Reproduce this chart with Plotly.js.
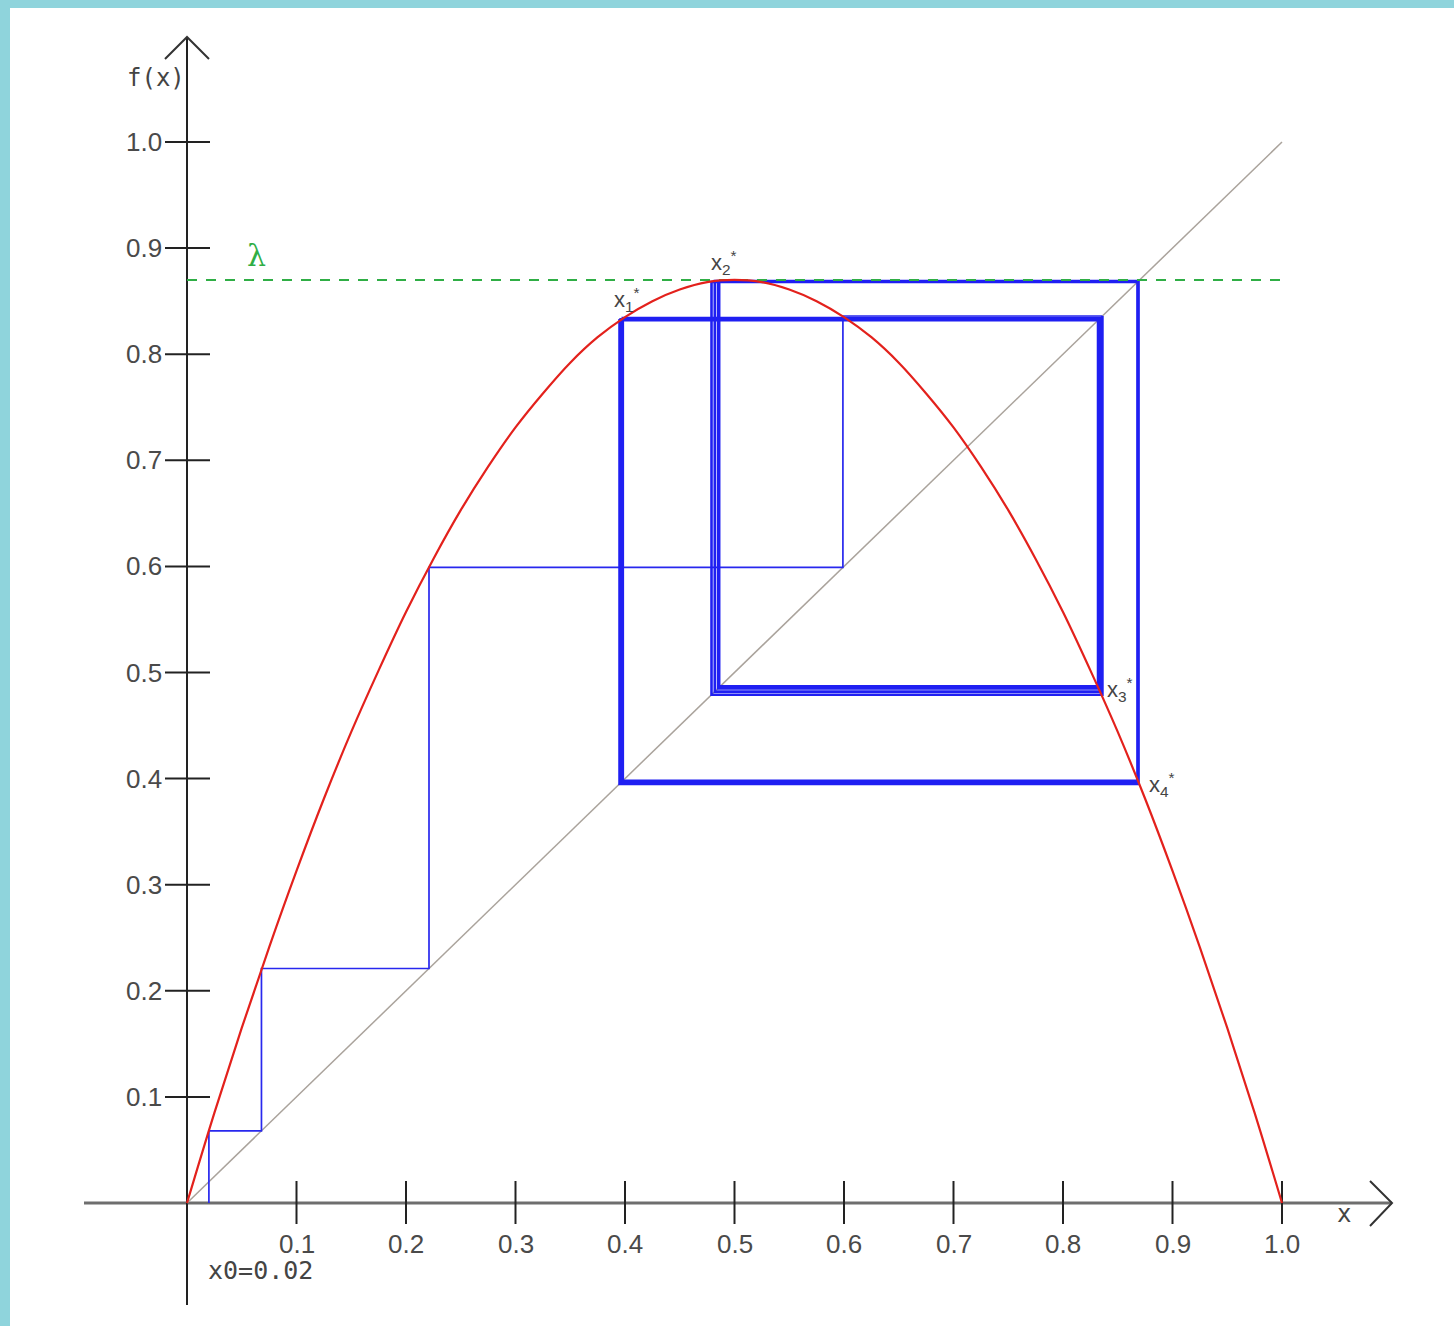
<!DOCTYPE html>
<html>
<head>
<meta charset="utf-8">
<script src="https://cdn.plot.ly/plotly-3.0.1.min.js"></script>
<style>
  html, body { margin: 0; padding: 0; background: #8fd4dc; }
  #plot { width: 1454px; height: 1326px; }
</style>
</head>
<body>
<div id="plot"></div>
<script>
// Logistic map cobweb: f(x) = r x (1 - x) with peak height lambda
const tickVals   = [0.1, 0.2, 0.3, 0.4, 0.5, 0.6, 0.7, 0.8, 0.9, 1.0];
const tickLabels = ['0.1', '0.2', '0.3', '0.4', '0.5', '0.6', '0.7', '0.8', '0.9', '1.0'];

const lambda = 0.87;
const startX = 0.02;

// sampled curve f(x)
const curveX = [0, 0.025, 0.05, 0.075, 0.1, 0.125, 0.15, 0.175, 0.2, 0.225, 0.25,
                0.275, 0.3, 0.325, 0.35, 0.375, 0.4, 0.425, 0.45, 0.475, 0.5,
                0.525, 0.55, 0.575, 0.6, 0.625, 0.65, 0.675, 0.7, 0.725, 0.75,
                0.775, 0.8, 0.825, 0.85, 0.875, 0.9, 0.925, 0.95, 0.975, 1.0];
const curveY = [0, 0.085, 0.165, 0.241, 0.313, 0.381, 0.444, 0.502, 0.557, 0.607, 0.653,
                0.694, 0.731, 0.763, 0.792, 0.816, 0.835, 0.850, 0.861, 0.868, 0.870,
                0.868, 0.861, 0.850, 0.835, 0.816, 0.792, 0.763, 0.731, 0.694, 0.653,
                0.607, 0.557, 0.502, 0.444, 0.381, 0.313, 0.241, 0.165, 0.085, 0];

// successive iterates x0, x1, x2, ...
const iterates = [0.02, 0.068, 0.221, 0.599, 0.836, 0.479, 0.868, 0.398, 0.834,
                  0.482, 0.869, 0.396, 0.833, 0.485, 0.869, 0.396, 0.832, 0.486,
                  0.869, 0.395, 0.832, 0.487];
// iterates before the orbit settles onto the 4-cycle
const transientSteps = 4;

// points of the 4-cycle
const cycleX = [0.397, 0.483, 0.834, 0.869];
const cycleY = [0.834, 0.869, 0.484, 0.397];
const cycleNames = ['x<sub>1</sub><sup>*</sup>', 'x<sub>2</sub><sup>*</sup>',
                    'x<sub>3</sub><sup>*</sup>', 'x<sub>4</sub><sup>*</sup>'];

// page geometry (pixels)
const W = 1454, H = 1326;
const OX = 187, OY = 1203;      // origin
const UX = 1095, UY = 1061;     // one unit along x / y
const dx = p => p / UX;         // pixel length -> data length
const dy = p => p / UY;
const px = p => (p - OX) / UX;  // pixel position -> data
const py = p => (OY - p) / UY;

// cobweb path: vertical to the curve, horizontal to the diagonal
function cobweb(list, fromAxis) {
  const xs = [], ys = [];
  if (fromAxis) { xs.push(list[0]); ys.push(0); }
  else { xs.push(list[0]); ys.push(list[0]); }
  for (let i = 0; i < list.length - 1; i++) {
    xs.push(list[i]);     ys.push(list[i + 1]);
    xs.push(list[i + 1]); ys.push(list[i + 1]);
  }
  return { xs, ys };
}
const early = cobweb(iterates.slice(0, transientSteps + 1), true);
const late  = cobweb(iterates.slice(transientSteps), false);

const axisColor = '#222';
const labelFont = { family: 'Liberation Sans, Arial, sans-serif', size: 26, color: '#4a4a4a' };

const shapes = [
  // white sheet over the cyan backdrop
  { type: 'rect', xref: 'paper', yref: 'paper', x0: 10 / W, x1: 1.01, y0: -0.01, y1: 1 - 8 / H,
    fillcolor: '#ffffff', line: { width: 0 }, layer: 'below' },
  // x axis
  { type: 'line', x0: px(84), x1: px(1392), y0: 0, y1: 0,
    line: { color: '#6e6e6e', width: 3 }, layer: 'below' },
  // y axis
  { type: 'line', x0: 0, x1: 0, y0: py(1305), y1: py(37),
    line: { color: axisColor, width: 2 }, layer: 'below' },
  // arrow heads
  { type: 'path', path: `M ${px(1370)} ${py(1181)} L ${px(1392)} ${py(1203)} L ${px(1370)} ${py(1226)}`,
    line: { color: '#333', width: 2 }, layer: 'below' },
  { type: 'path', path: `M ${px(165)} ${py(59)} L ${px(187)} ${py(37)} L ${px(209)} ${py(59)}`,
    line: { color: '#333', width: 2 }, layer: 'below' }
];

// tick marks crossing both axes
tickVals.forEach(v => {
  shapes.push({ type: 'line', x0: v, x1: v, y0: -dy(21), y1: dy(22),
    line: { color: axisColor, width: 2 }, layer: 'below' });
  shapes.push({ type: 'line', x0: -dx(22), x1: dx(23), y0: v, y1: v,
    line: { color: axisColor, width: 2 }, layer: 'below' });
});

const annotations = [];
tickVals.forEach((v, i) => {
  annotations.push({ x: v, y: -dy(41), text: tickLabels[i], showarrow: false,
    xanchor: 'center', yanchor: 'middle', font: labelFont });
  annotations.push({ x: -dx(23), y: v, text: tickLabels[i], showarrow: false,
    xanchor: 'right', yanchor: 'middle', font: labelFont });
});

const monoFont = { family: 'DejaVu Sans Mono, monospace', size: 24, color: '#444' };
annotations.push({ x: px(156), y: py(78), text: 'f(x)', showarrow: false,
  xanchor: 'center', yanchor: 'middle', font: monoFont });
annotations.push({ x: px(1344), y: py(1214), text: 'x', showarrow: false,
  xanchor: 'center', yanchor: 'middle', font: monoFont });
annotations.push({ x: startX, y: -dy(67), xshift: -3, text: 'x0=' + startX.toFixed(2), showarrow: false,
  xanchor: 'left', yanchor: 'middle', font: { family: 'DejaVu Sans Mono, monospace', size: 25, color: '#444' } });
annotations.push({ x: px(256), y: lambda, yshift: 24, text: 'λ', showarrow: false,
  xanchor: 'center', yanchor: 'middle',
  font: { family: 'DejaVu Serif, serif', size: 30, color: '#2fae45' } });

// labels of the cycle points
const starShift = [[5, 19], [8, 18], [20, 0], [23, -3]];
cycleX.forEach((x, i) => {
  annotations.push({ x: x, y: cycleY[i], xshift: starShift[i][0], yshift: starShift[i][1],
    text: cycleNames[i], showarrow: false, xanchor: 'center', yanchor: 'middle',
    font: { family: 'Liberation Sans, Arial, sans-serif', size: 22, color: '#444' } });
});

const traces = [
  { x: [0, 1], y: [0, 1], mode: 'lines', line: { color: '#aaa39c', width: 1.5 }, hoverinfo: 'skip' },
  { x: early.xs, y: early.ys, mode: 'lines', line: { color: '#2828ee', width: 1.7 }, hoverinfo: 'skip' },
  { x: late.xs, y: late.ys, mode: 'lines', line: { color: '#1f1ff2', width: 2.6 }, hoverinfo: 'skip' },
  { x: [0, 1], y: [lambda, lambda], mode: 'lines',
    line: { color: '#2fae45', width: 2, dash: '10px,9px' }, hoverinfo: 'skip' },
  { x: curveX, y: curveY, mode: 'lines', line: { color: '#e3211c', width: 2.2, shape: 'spline' }, hoverinfo: 'skip' }
];

const layout = {
  width: W, height: H,
  margin: { l: 0, r: 0, t: 0, b: 0, pad: 0 },
  paper_bgcolor: '#8fd4dc',
  plot_bgcolor: 'rgba(0,0,0,0)',
  showlegend: false,
  xaxis: { range: [-OX / UX, (W - OX) / UX], visible: false, fixedrange: true },
  yaxis: { range: [-(H - OY) / UY, OY / UY], visible: false, fixedrange: true },
  shapes: shapes,
  annotations: annotations
};

Plotly.newPlot('plot', traces, layout, { displayModeBar: false, staticPlot: true });
</script>
</body>
</html>
